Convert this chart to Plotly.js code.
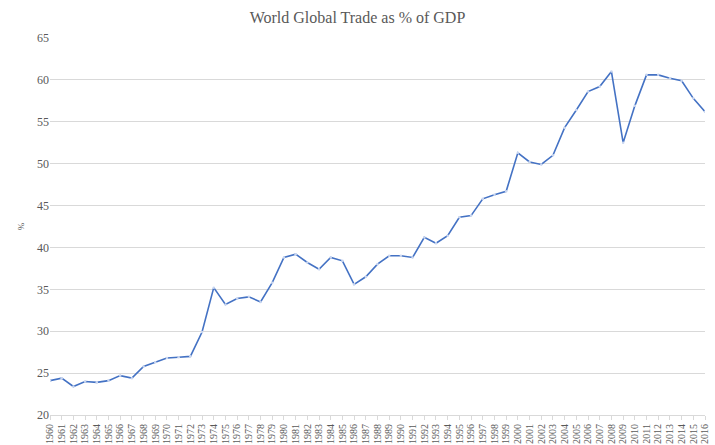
<!DOCTYPE html>
<html>
<head>
<meta charset="utf-8">
<script src="https://cdn.plot.ly/plotly-3.0.1.min.js"></script>
<style>html,body{margin:0;padding:0;background:#fff;}#chart{width:715px;height:445px;}</style>
</head>
<body>
<div id="chart"></div>
<script>
var years = [];
for (var y = 1960; y <= 2016; y++) years.push(y);
var tradePct = [
  24.1, 24.4, 23.4, 24.0, 23.9, 24.1, 24.7, 24.4, 25.8, 26.3,
  26.8, 26.9, 27.0, 29.9, 35.2, 33.2, 33.9, 34.1, 33.5, 35.8,
  38.8, 39.2, 38.2, 37.4, 38.8, 38.4, 35.6, 36.5, 38.0, 39.0,
  39.0, 38.8, 41.2, 40.5, 41.4, 43.6, 43.8, 45.8, 46.3, 46.7,
  51.3, 50.2, 49.9, 51.0, 54.3, 56.4, 58.6, 59.2, 61.0, 52.5,
  56.9, 60.6, 60.6, 60.2, 59.9, 57.8, 56.2
];
var yTicks = [20, 25, 30, 35, 40, 45, 50, 55, 60, 65];

var font = "'Liberation Serif', 'DejaVu Serif', serif";
var trace = {
  x: years, y: tradePct, type: 'scatter', mode: 'lines+markers',
  line: {color: '#4472C4', width: 1.6},
  marker: {size: 2.5, color: '#c9d6f0'},
  hoverinfo: 'x+y'
};
var layout = {
  width: 715, height: 445,
  margin: {l: 50, r: 10, t: 38, b: 30},
  paper_bgcolor: '#ffffff', plot_bgcolor: '#ffffff',
  showlegend: false,
  title: {text: 'World Global Trade as % of GDP', x: 0.5, xanchor: 'center', y: 0.962, yanchor: 'middle',
    font: {family: font, size: 16, color: '#595959'}},
  xaxis: {
    range: [1960, 2016], tickmode: 'array', tickvals: years, ticktext: years.map(String),
    tickangle: -90, tickfont: {family: font, size: 10, color: '#595959'},
    showgrid: false, zeroline: false, showline: true, linecolor: '#d9d9d9', linewidth: 1,
    ticks: 'outside', ticklen: 4, tickcolor: '#d9d9d9'
  },
  yaxis: {
    range: [20, 65], tickmode: 'array', tickvals: yTicks,
    tickfont: {family: font, size: 12, color: '#595959'},
    showgrid: true, gridcolor: '#d9d9d9', gridwidth: 1, zeroline: false, showline: false,
    ticks: '', title: {text: '%', font: {family: font, size: 9, color: '#595959'}, standoff: 10}
  }
};
Plotly.newPlot('chart', [trace], layout, {displayModeBar: false, staticPlot: true});
</script>
</body>
</html>
